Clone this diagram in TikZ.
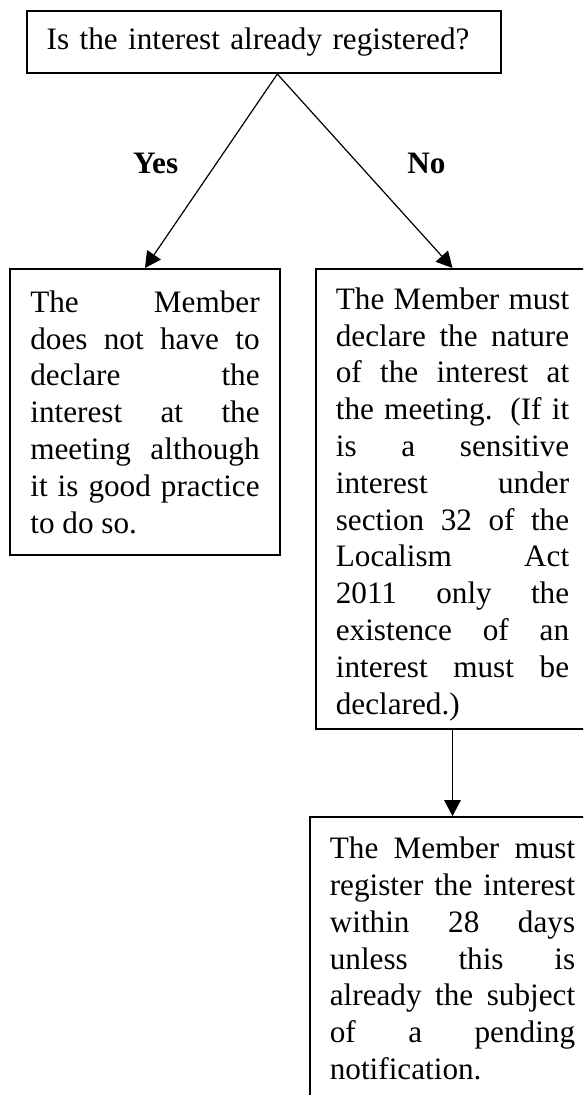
\documentclass[tikz,border=0pt]{standalone}
\usepackage{fontspec}
\setmainfont{Liberation Serif}
\usetikzlibrary{positioning,arrows.meta}
\hyphenpenalty=10000
\tolerance=10000

\begin{document}
\begin{tikzpicture}[x=0.375pt, y=-0.375pt, >={Triangle[length=6pt,width=6.2pt]},
                    font=\fontsize{11.7}{13.8}\selectfont,
                    box node/.style={draw,line width=0.75pt,align=justify,inner xsep=7.5pt,inner ysep=0pt},
                    label node/.style={font=\fontsize{11.7}{13.8}\selectfont\bfseries}]
  \clip (0,0) rectangle (583,1095);

  \node[box node,align=left,text width=163pt,minimum height=23.25pt] (1) at (264,42) {Is the interest already registered?};
  \node[box node,text width=86pt,minimum height=107.25pt] (2) at (145,412)
    {The Member\linebreak does not have to\linebreak declare the\linebreak interest at the\linebreak
     meeting although\linebreak it is good practice\linebreak to do so.};
  \node[box node,text width=87.5pt,minimum height=172.5pt] (3) at (452.5,499)
    {\rule{0pt}{12pt}The Member must\linebreak declare the nature\linebreak of the interest at\linebreak the meeting. (If it\linebreak
     is a sensitive\linebreak interest under\linebreak section 32 of the\linebreak Localism Act\linebreak
     2011 only the\linebreak existence of an\linebreak interest must be\linebreak declared.)};
  \node[box node,text width=92pt,minimum height=106pt] (4) [below of=3, node distance=172.3pt]
    {The Member must\linebreak register the interest\linebreak within 28 days\linebreak unless this is\linebreak
     already the subject\linebreak of a pending\linebreak notification.};

\path[->, line width=0.45pt]
    ([xshift=5pt]1.south) edge node [label node, pos=.46, left=10.8pt] {Yes} (2.north)
    ([xshift=5pt]1.south) edge node [label node, pos=.46, right=15pt] {No} (3.north)
    (3) edge (4);

\end{tikzpicture}
\end{document}
